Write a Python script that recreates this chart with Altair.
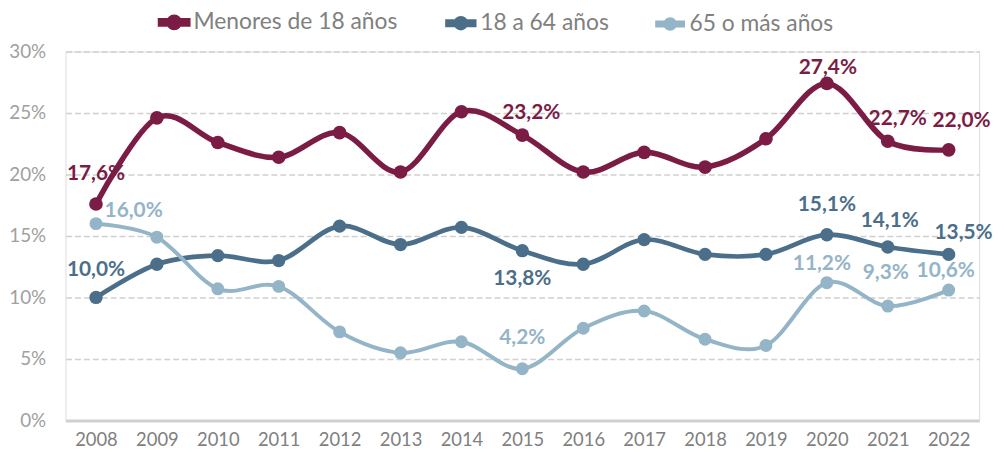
import altair as alt
import pandas as pd

# ---- data ----
years = [2008, 2009, 2010, 2011, 2012, 2013, 2014, 2015, 2016, 2017, 2018, 2019, 2020, 2021, 2022]
series_names = ["Menores de 18 años", "18 a 64 años", "65 o más años"]
menores = [17.6, 24.6, 22.6, 21.4, 23.4, 20.2, 25.1, 23.2, 20.2, 21.8, 20.6, 22.9, 27.4, 22.7, 22.0]
adultos = [10.0, 12.7, 13.4, 13.0, 15.8, 14.3, 15.7, 13.8, 12.7, 14.7, 13.5, 13.5, 15.1, 14.1, 13.5]
mayores = [16.0, 14.9, 10.7, 10.9, 7.2, 5.5, 6.4, 4.2, 7.5, 8.9, 6.6, 6.1, 11.2, 9.3, 10.6]
labeled_years = [2008, 2015, 2020, 2021, 2022]
y_ticks = [0, 5, 10, 15, 20, 25, 30]

# ---- styles ----
colors = ["#7B1C45", "#4B6F8A", "#94B4C7"]
line_widths = [5.5, 4, 3.2]
point_sizes = [190, 170, 160]
FONT = "Lato"

# label offsets (dx, dy) relative to the point, per series and labelled year
label_offsets = {
    "Menores de 18 años": {2008: (0, -30), 2015: (9, -22), 2020: (1, -15), 2021: (10, -22), 2022: (13, -29)},
    "18 a 64 años": {2008: (0, -28), 2015: (0, 29), 2020: (0, -30), 2021: (2, -26), 2022: (15, -22)},
    "65 o más años": {2008: (38, -13), 2015: (0, -31), 2020: (-5, -19), 2021: (-2, -33), 2022: (-3, -19)},
}

rows = []
for name, vals in zip(series_names, [menores, adultos, mayores]):
    for yr, v in zip(years, vals):
        rows.append({"year": str(yr), "serie": name, "value": v,
                     "label": f"{v:.1f}".replace(".", ",") + "%"})
df = pd.DataFrame(rows)

x_enc = alt.X("year:O", title=None,
              scale=alt.Scale(type="point", padding=0.5),
              axis=alt.Axis(labelAngle=0, ticks=False, domain=True, domainColor="#D0D0D0",
                            domainWidth=3, labelFont=FONT, labelFontSize=18.5,
                            labelColor="#808080", labelPadding=10, grid=False))
y_enc = alt.Y("value:Q", title=None,
              scale=alt.Scale(domain=[0, 30], nice=False, zero=True),
              axis=alt.Axis(values=y_ticks, labelExpr="datum.value + '%'", ticks=False,
                            domain=False, grid=True, gridColor="#D0D0D0", gridDash=[6, 3],
                            gridWidth=1.5, labelFont=FONT, labelFontSize=19,
                            labelColor="#A0A0A0", labelPadding=20))

color_scale = alt.Scale(domain=series_names, range=colors)
legend_path = ("M-2,-0.24 H-0.6 V0.24 H-2 Z M0.6,-0.24 H2 V0.24 H0.6 Z "
               "M0.74,0 A0.74,0.74 0 1,1 -0.74,0 A0.74,0.74 0 1,1 0.74,0 Z")
legend = alt.Legend(title=None, orient="none", direction="horizontal", legendX=98, legendY=-41,
                    symbolType=legend_path, symbolSize=1444, symbolStrokeWidth=0,
                    labelFont=FONT, labelFontSize=23, labelColor="#808080", labelLimit=400,
                    labelOffset=8, columnPadding=40, symbolOpacity=1)

base = alt.Chart(df)

lines = base.mark_line(interpolate="cardinal").encode(
    x=x_enc, y=y_enc,
    color=alt.Color("serie:N", scale=color_scale, legend=legend, sort=series_names),
    strokeWidth=alt.StrokeWidth("serie:N", scale=alt.Scale(domain=series_names, range=line_widths), legend=None),
    order=alt.Order("year:O"),
)

points = base.mark_point(filled=True, opacity=1).encode(
    x=x_enc, y=y_enc,
    color=alt.Color("serie:N", scale=color_scale, legend=legend, sort=series_names),
    size=alt.Size("serie:N", scale=alt.Scale(domain=series_names, range=point_sizes), legend=None),
)

layers = [lines, points]
for name, col in zip(series_names, colors):
    for yr in labeled_years:
        dx, dy = label_offsets[name][yr]
        layers.append(
            base.transform_filter(
                (alt.datum.serie == name) & (alt.datum.year == str(yr))
            ).mark_text(font=FONT, fontSize=21, fontWeight="bold", color=col,
                        dx=dx, dy=dy, baseline="middle", align="center").encode(
                x=x_enc, y=y_enc, text="label:N")
        )

chart = alt.layer(*layers).properties(
    width=921, height=372,
    autosize=alt.AutoSizeParams(type="none"),
    padding={"left": 58, "top": 42, "right": 17, "bottom": 30},
).configure_view(stroke="transparent", strokeWidth=0).configure(background="white")

chart.save("out.html", embed_options={"renderer": "svg", "actions": False})
